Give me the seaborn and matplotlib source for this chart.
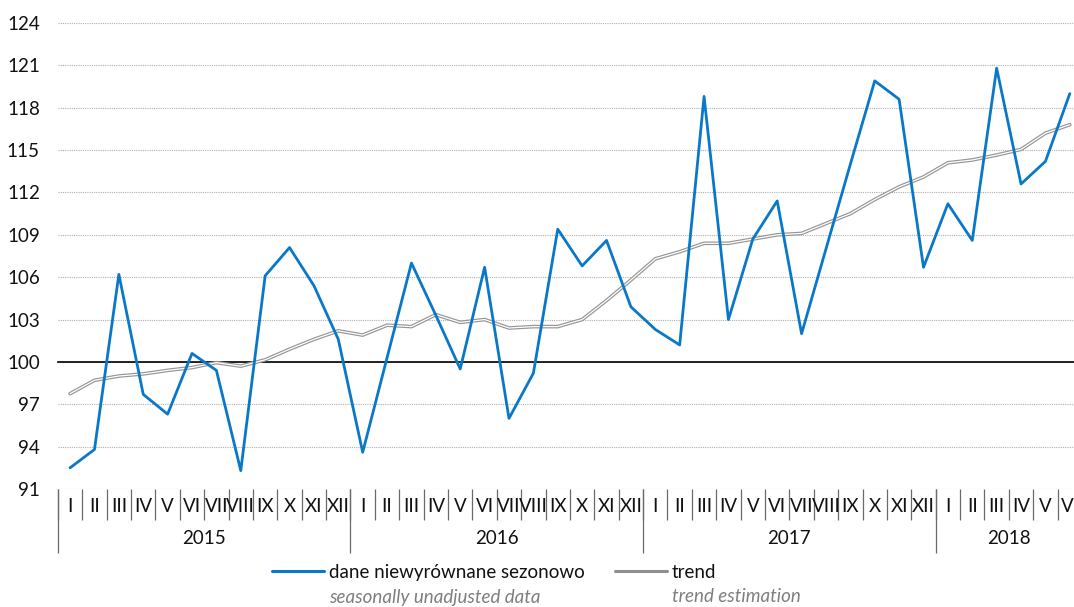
import numpy as np
import pandas as pd
import matplotlib
matplotlib.use("Agg")
import matplotlib.pyplot as plt
import matplotlib.transforms as mtransforms
import matplotlib.patheffects as pe
from matplotlib.lines import Line2D
import seaborn as sns

# ---------------- data ----------------
years = ["2015", "2016", "2017", "2018"]
months_per_year = [12, 12, 12, 6]
roman = ["I", "II", "III", "IV", "V", "VI", "VII", "VIII", "IX", "X", "XI", "XII"]
month_labels = roman * 3 + roman[:6]

unadjusted = [
    92.5, 93.8, 106.2, 97.7, 96.3, 100.6, 99.4, 92.3, 106.1, 108.1, 105.4, 101.6,
    93.6, 100.3, 107.0, 103.3, 99.5, 106.7, 96.0, 99.2, 109.4, 106.8, 108.6, 103.9,
    102.3, 101.2, 118.8, 103.0, 108.7, 111.4, 102.0, 108.0, 114.0, 119.9, 118.6, 106.7,
    111.2, 108.6, 120.8, 112.6, 114.2, 119.0,
]
trend = [
    97.75, 98.7, 99.0, 99.15, 99.4, 99.6, 99.95, 99.7, 100.15, 100.9, 101.6, 102.2,
    101.9, 102.6, 102.5, 103.35, 102.8, 103.0, 102.4, 102.5, 102.5, 103.0, 104.35, 105.8,
    107.3, 107.8, 108.4, 108.4, 108.7, 109.0, 109.1, 109.8, 110.5, 111.5, 112.4, 113.1,
    114.1, 114.3, 114.65, 115.05, 116.2, 116.8,
]
y_ticks = list(range(91, 125, 3))

legend_main = ["dane niewyrównane sezonowo", "trend"]
legend_sub = ["seasonally unadjusted data", "trend estimation"]

# ---------------- style ----------------
sns.set_style("white")
plt.rcParams["font.family"] = ["Lato", "DejaVu Sans"]

BLUE = "#0a78c8"
GREY = "#959595"
FS = 13.5

W, H = 1074, 607
fig = plt.figure(figsize=(W / 100, H / 100), dpi=100)
left_px, right_px, top_px, bot_px = 57.9, 1082.0, 23.0, 489.0
ax = fig.add_axes([left_px / W, (H - bot_px) / H, (right_px - left_px) / W, (bot_px - top_px) / H])

n = len(unadjusted)
df = pd.DataFrame({"idx": np.arange(n), "unadj": unadjusted, "trend": trend})

# trend: double line (grey outline, white core)
sns.lineplot(data=df, x="idx", y="trend", ax=ax, color="white", lw=0.9,
             path_effects=[pe.Stroke(linewidth=2.6, foreground=GREY), pe.Normal()],
             zorder=3)
sns.lineplot(data=df, x="idx", y="unadj", ax=ax, color=BLUE, lw=2.0, zorder=4)

ax.set_xlim(-0.5, len(month_labels) - 0.5)
ax.set_ylim(91, 124)
ax.set_yticks(y_ticks)
ax.set_yticklabels([str(t) for t in y_ticks], fontsize=FS, color="#111111")
ax.tick_params(axis="y", length=0, pad=13)
ax.set_xlabel("")
ax.set_ylabel("")

ax.grid(axis="y", color="#b0b0b0", linestyle=(0, (1, 1)), lw=0.8, zorder=0)
ax.grid(axis="x", visible=False)

for s in ["top", "right", "left"]:
    ax.spines[s].set_visible(False)
ax.spines["bottom"].set_position(("data", 100))
ax.spines["bottom"].set_color("black")
ax.spines["bottom"].set_linewidth(1.2)
ax.spines["bottom"].set_zorder(2)

bounds = np.arange(-0.5, len(month_labels) + 0.5, 1.0)
ax.set_xticks(bounds)
ax.tick_params(axis="x", direction="out", length=3.5, width=1.0, color="black",
               labelbottom=False)

# category axis below the plot
trans = mtransforms.blended_transform_factory(ax.transData, ax.transAxes)
ah = bot_px - top_px
month_y = -(506.5 - bot_px) / ah
year_y = -(539.0 - bot_px) / ah
msep = -(520.0 - bot_px) / ah
ysep = -(553.0 - bot_px) / ah

for i, m in enumerate(month_labels):
    ax.text(i, month_y, m, transform=trans, ha="center", va="center",
            fontsize=FS, color="#111111", clip_on=False)
ax.vlines(bounds, msep, 0, transform=trans, colors="#6a6a6a", lw=0.9, clip_on=False)

starts = np.concatenate([[0], np.cumsum(months_per_year)[:-1]])
for yr, st, cnt in zip(years, starts, months_per_year):
    ax.vlines(st - 0.5, ysep, 0, transform=trans, colors="#6a6a6a", lw=0.9, clip_on=False)
    ax.text(st + cnt / 2 - 0.5, year_y, yr, transform=trans, ha="center", va="center",
            fontsize=FS, color="#111111", clip_on=False)

# legend
handles = [Line2D([], [], color=BLUE, lw=2.2), Line2D([], [], color="#8e8e8e", lw=2.2)]
leg = fig.legend(handles, legend_main, loc="center left",
                 bbox_to_anchor=(272 / W, 1 - 572.5 / H), ncol=2, frameon=False,
                 handlelength=2.75, handletextpad=0.3, columnspacing=1.6,
                 borderpad=0, borderaxespad=0, fontsize=FS)
for t in leg.get_texts():
    t.set_color("#111111")
fig.canvas.draw()
for t, sub in zip(leg.get_texts(), legend_sub):
    bb = t.get_window_extent()
    fig.text(bb.x0 / W, 1 - 597 / H, sub, fontsize=FS, style="italic",
             color="#7f7f7f", va="center", ha="left")

fig.savefig("out.png", dpi=100)
